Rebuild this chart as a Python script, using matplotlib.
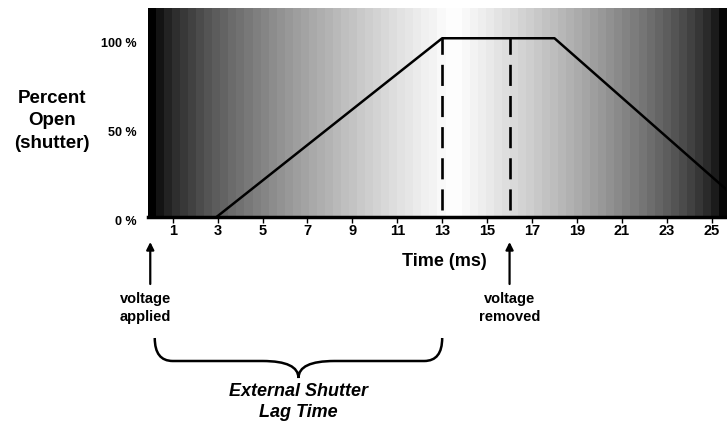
import numpy as np
import matplotlib.pyplot as plt
from matplotlib.path import Path
from matplotlib.patches import PathPatch
from matplotlib.transforms import blended_transform_factory, ScaledTranslation

# shutter opening curve (ms, % open)
time_ms = [3, 13, 18, 27]
percent_open = [0, 100, 100, 0]

# events
voltage_on_ms = 0
fully_open_ms = 13
voltage_off_ms = 16

x_ticks = list(range(1, 26, 2))
y_ticks = [0, 50, 100]
y_labels = ['0 %', '50 %', '100 %']

# background shading: black -> white -> black
shade_x = [0, 13.5, 25.7]
shade_level = [0.0, 1.0, 0.0]

xmin, xmax = -0.1, 25.66
ymin, ymax = -0.5, 117

narrow = ['Liberation Sans Narrow', 'Liberation Sans', 'DejaVu Sans']
sans = ['Liberation Sans', 'DejaVu Sans']

fig = plt.figure(figsize=(7.27, 4.26), dpi=100)
ax = fig.add_axes([0.2036, 0.4906, 0.7957, 0.4906])

# banded gradient behind the curve
n_bands = 72
band_x = np.linspace(xmin, xmax, n_bands)
band_val = np.interp(band_x, shade_x, shade_level) ** 0.65
ax.imshow(band_val[np.newaxis, :], cmap='gray', vmin=0, vmax=1, aspect='auto',
          extent=[xmin, xmax, ymin, ymax], interpolation='nearest', zorder=0)

ax.plot(time_ms, percent_open, color='black', lw=1.8, zorder=3)
for xv in (fully_open_ms, voltage_off_ms):
    ax.plot([xv, xv], [3.6, 100], color='black', lw=1.9, dashes=(8, 3.8), zorder=3)

ax.set_xlim(xmin, xmax)
ax.set_ylim(ymin, ymax)

for side in ('top', 'right', 'left'):
    ax.spines[side].set_visible(False)
ax.spines['bottom'].set_linewidth(2.5)

ax.set_xticks(x_ticks)
ax.set_xticklabels([str(t) for t in x_ticks], fontfamily=narrow,
                   fontweight='bold', fontsize=10.5)
ax.tick_params(axis='x', direction='out', length=4, width=1, pad=1)

ax.set_yticks(y_ticks)
ax.set_yticklabels(y_labels, fontfamily=narrow, fontweight='bold', fontsize=9)
ax.tick_params(axis='y', length=0, pad=8)
shift = ScaledTranslation(0, -4 / 100, fig.dpi_scale_trans)
for lbl in ax.get_yticklabels():
    lbl.set_transform(lbl.get_transform() + shift)

fig.text(0.072, 0.716, 'Percent\nOpen\n(shutter)', ha='center', va='center',
         fontfamily=sans, fontweight='bold', fontsize=13.5, linespacing=1.45)

fig.text(0.611, 0.385, 'Time (ms)', ha='center', va='center',
         fontfamily=sans, fontweight='bold', fontsize=13)

# arrows and notes below the axis (x in data, y in figure fraction)
tr = blended_transform_factory(ax.transData, fig.transFigure)
for xv in (voltage_on_ms, voltage_off_ms):
    ax.annotate('', xy=(xv, 1 - 242 / 426), xytext=(xv, 1 - 284 / 426),
                xycoords=tr, textcoords=tr,
                arrowprops=dict(arrowstyle='-|>', color='black', lw=1.6,
                                mutation_scale=11, shrinkA=0, shrinkB=0),
                annotation_clip=False)

ax.text(voltage_on_ms - 0.2, 1 - 308 / 426, 'voltage\napplied', transform=tr,
        ha='center', va='center', fontfamily=sans, fontweight='bold',
        fontsize=10.5, linespacing=1.3)
ax.text(voltage_off_ms, 1 - 308 / 426, 'voltage\nremoved', transform=tr,
        ha='center', va='center', fontfamily=sans, fontweight='bold',
        fontsize=10.5, linespacing=1.3)

# curly brace spanning the lag time
b0, b1 = 0.2, fully_open_ms
bm = (b0 + b1) / 2
y_top, y_mid, y_tip = 1 - 338 / 426, 1 - 361 / 426, 1 - 378 / 426
r = 0.8
verts = [
    (b0, y_top), (b0, y_mid), (b0 + r, y_mid),
    (bm - 2 * r, y_mid), (bm, y_mid), (bm, y_tip),
    (bm, y_mid), (bm + 2 * r, y_mid),
    (b1 - r, y_mid), (b1, y_mid), (b1, y_top),
]
codes = [Path.MOVETO, Path.CURVE3, Path.CURVE3,
         Path.LINETO, Path.CURVE3, Path.CURVE3,
         Path.CURVE3, Path.CURVE3,
         Path.LINETO, Path.CURVE3, Path.CURVE3]
brace = PathPatch(Path(verts, codes), transform=tr, fill=False,
                  edgecolor='black', lw=1.8, clip_on=False)
ax.add_patch(brace)

ax.text(bm, 1 - 402 / 426, 'External Shutter\nLag Time', transform=tr,
        ha='center', va='center', fontfamily=sans, fontweight='bold',
        fontstyle='italic', fontsize=13, linespacing=1.3)

fig.savefig('out.png', dpi=100)
